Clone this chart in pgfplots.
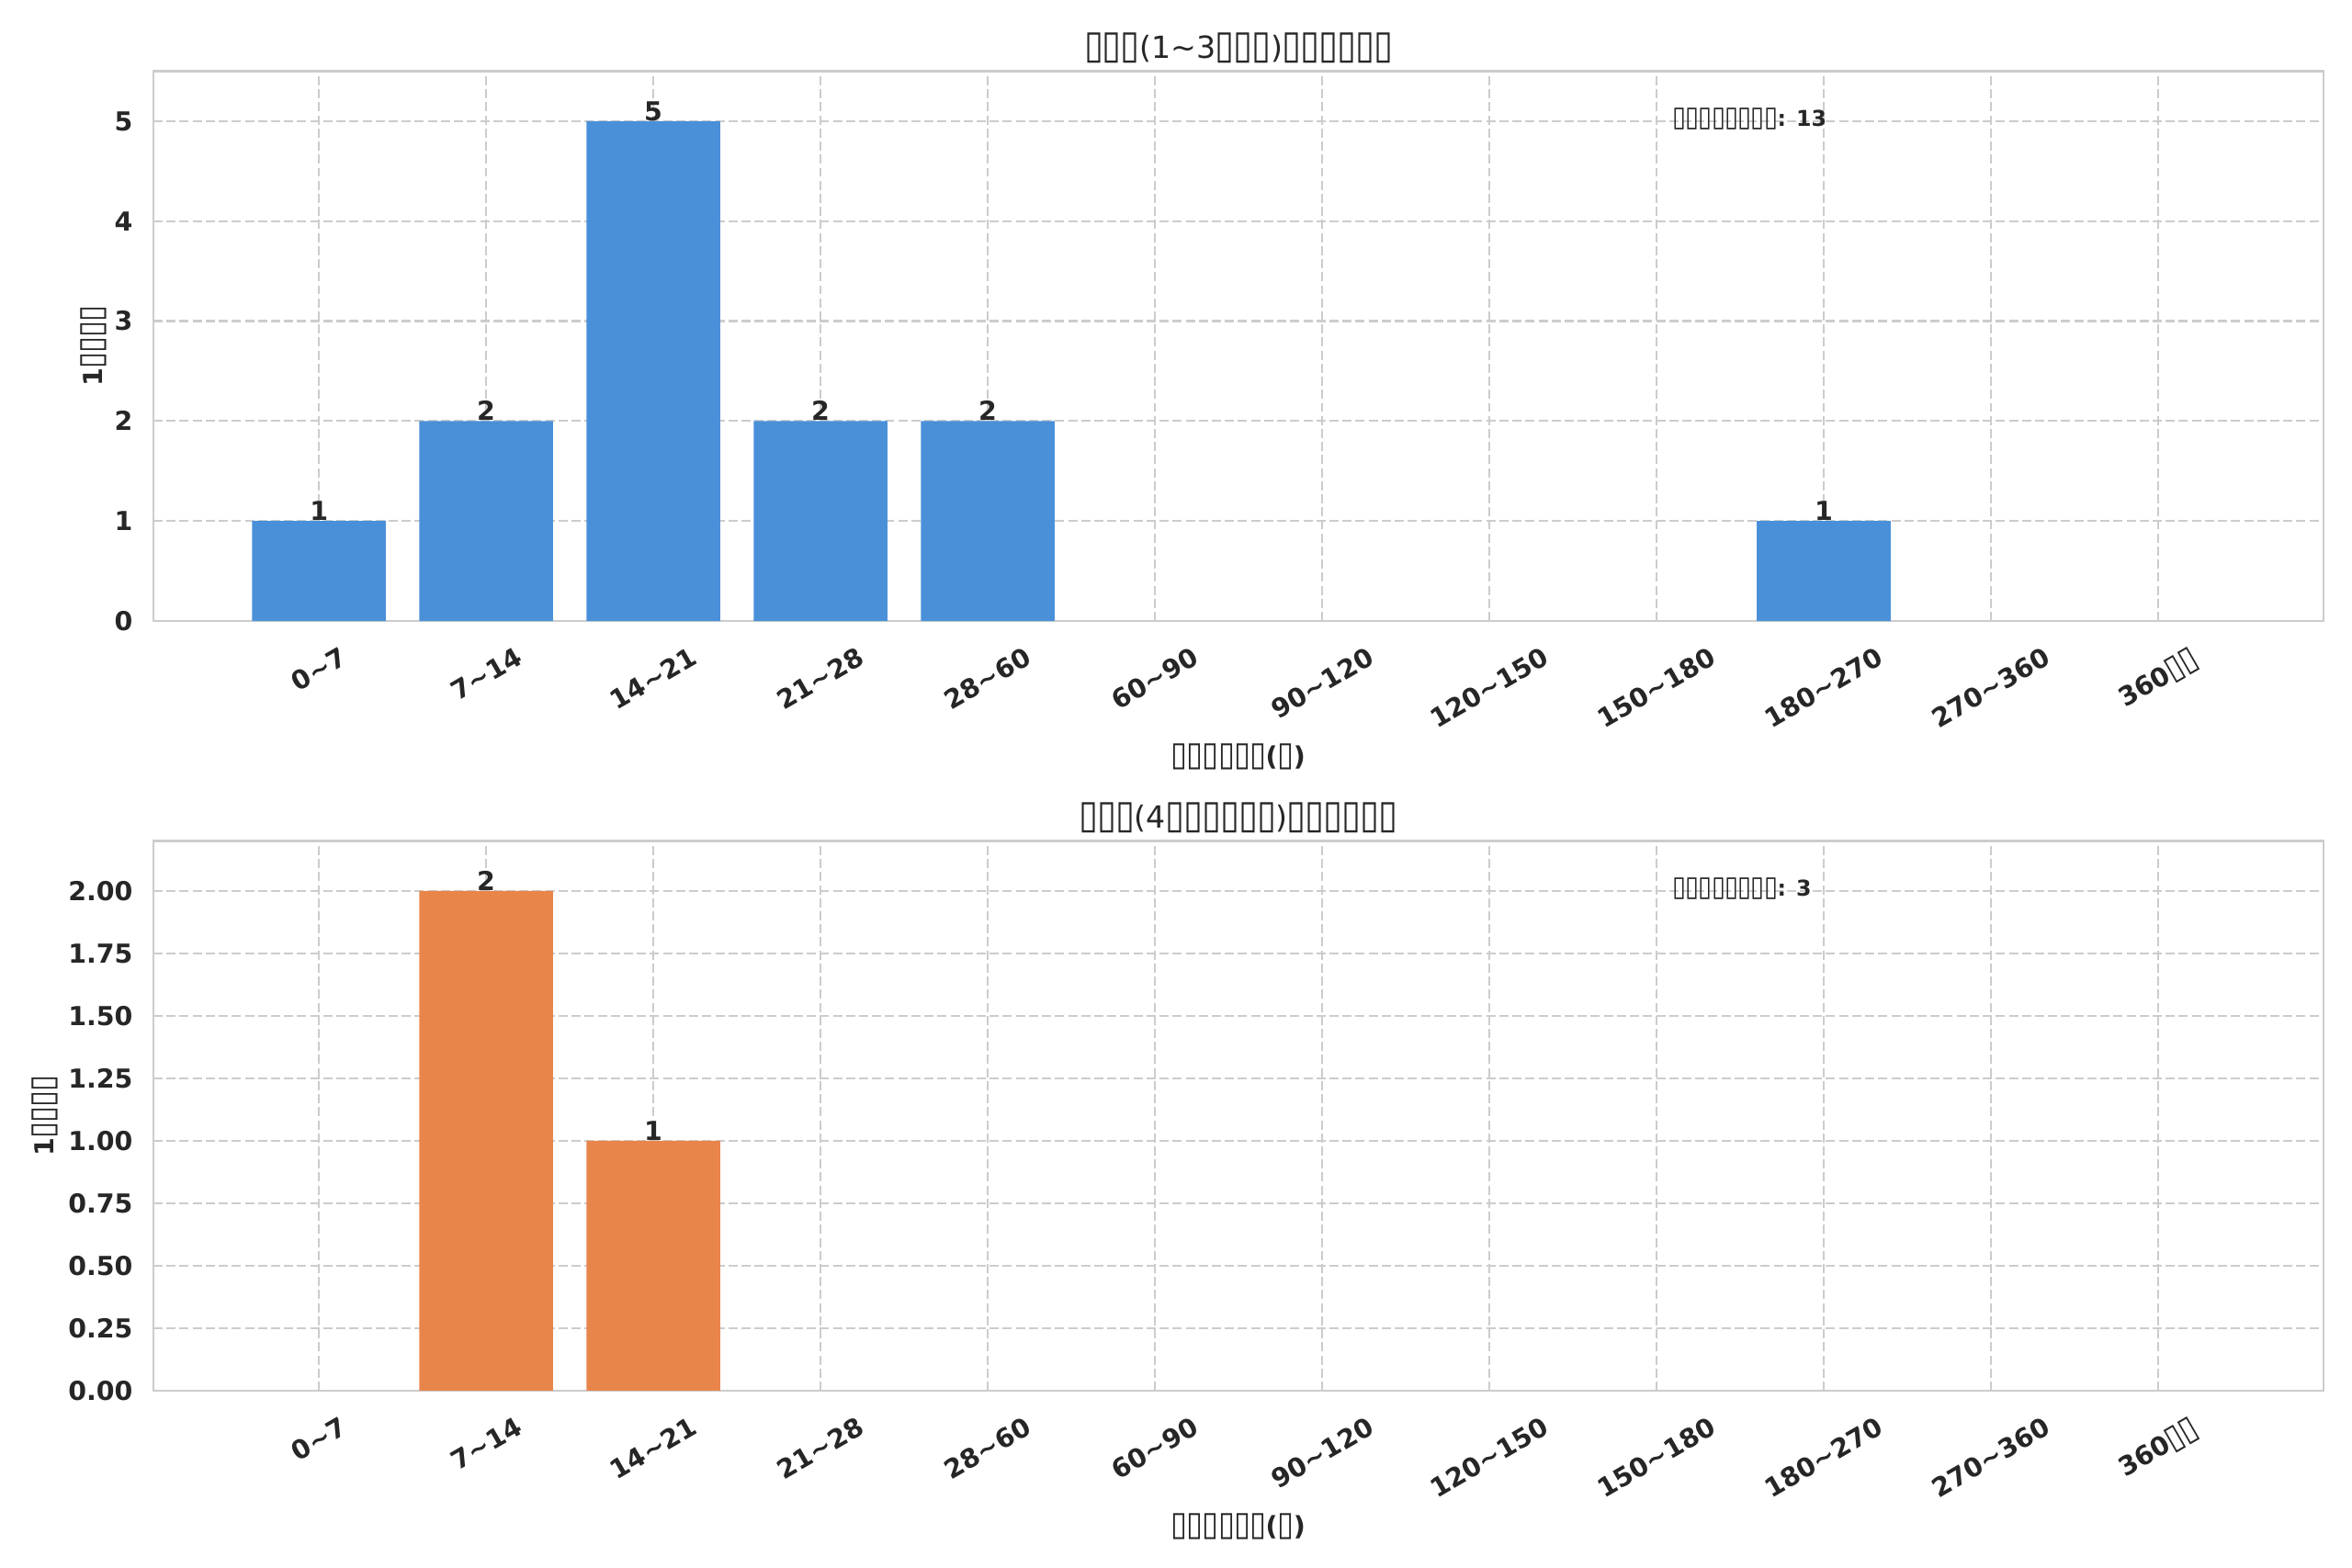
\documentclass[border=0pt]{standalone}
\usepackage{fontspec}
\setmainfont{DejaVu Sans}
\usepackage{graphicx}
\usepackage{pgfplots}
\pgfplotsset{compat=1.18}
\definecolor{txt}{HTML}{262626}
\definecolor{gridc}{HTML}{CCCCCC}
\definecolor{barblue}{HTML}{4A90D9}
\definecolor{barorange}{HTML}{E8854B}
\newcommand\tb{\makebox[0.6em]{\scalebox{1.15}[1.3]{▯}}}
\newcommand\rl[1]{\rotatebox{30}{#1}}
\newcommand\tl{\textasciitilde}
\newcommand\fs[1]{\fontsize{#1}{#1}\selectfont}
\pgfplotsset{
  /pgf/number format/assume math mode=true,
  every axis title shift=0pt,
  mystyle/.style={
    scale only axis, width=996.5pt, height=252.5pt,
    xmin=-0.99, xmax=11.99, ymin=0,
    xtick={0,...,11},
    xticklabels={\rl{0\tl7},\rl{7\tl14},\rl{14\tl21},\rl{21\tl28},\rl{28\tl60},\rl{60\tl90},\rl{90\tl120},\rl{120\tl150},\rl{150\tl180},\rl{180\tl270},\rl{270\tl360},\rl{360\tb\tb}},
    major tick length=0pt,
    grid=major,
    major grid style={gridc, line width=0.9pt, dash pattern=on 4.2pt off 1.8pt},
    axis line style={gridc, line width=1.1pt},
    tick label style={font=\fs{12}\bfseries, text=txt},
    xticklabel style={anchor=north, inner sep=0pt, yshift=-11.4pt},
    yticklabel style={anchor=east, inner sep=0pt, xshift=-9.3pt},
    title style={at={(axis description cs:0.5,1)}, anchor=base, yshift=6pt, inner sep=0pt, font=\fs{14}, text=txt},
    xlabel style={at={(axis description cs:0.5,0)}, anchor=center, yshift=-62.4pt, inner sep=0pt, font=\fs{12}\bfseries, text=txt},
    ybar, bar width=0.8,
    nodes near coords,
    every node near coord/.append style={anchor=south, inner sep=0pt, font=\fs{12}\bfseries, text=txt},
    clip=false,
  }
}
\begin{document}
\begin{tikzpicture}
\path[use as bounding box] (0,0) rectangle (1080pt,720pt);
\begin{axis}[mystyle, at={(70.45pt,434.8pt)}, anchor=south west,
  ymax=5.5, ytick={0,1,2,3,4,5},
  title={\tb\tb\tb(1\tl3\tb\tb\tb)\tb\tb\tb\tb\tb\tb},
  xlabel={\tb\tb\tb\tb\tb\tb(\tb)},
  ylabel={1\tb\tb\tb\tb},
  ylabel style={at={([xshift=-27.4pt]axis description cs:0,0.5)}, anchor=center, inner sep=0pt, font=\fs{12}\bfseries, text=txt},
]
\addplot[fill=barblue, draw=none] coordinates {(0,1) (1,2) (2,5) (3,2) (4,2) (9,1)};
\node[anchor=base west, inner sep=0pt, font=\fs{10}\bfseries, text=txt] at (rel axis cs:0.7,0.9) {\tb\tb\tb\tb\tb\tb\tb\tb: 13};
\end{axis}
\begin{axis}[mystyle, at={(70.45pt,81.3pt)}, anchor=south west,
  ymax=2.2, ytick={0,0.25,0.5,0.75,1,1.25,1.5,1.75,2},
  yticklabel style={/pgf/number format/.cd, fixed, fixed zerofill, precision=2},
  title={\tb\tb\tb(4\tb\tb\tb\tb\tb\tb)\tb\tb\tb\tb\tb\tb},
  xlabel={\tb\tb\tb\tb\tb\tb(\tb)},
  ylabel={1\tb\tb\tb\tb},
  ylabel style={at={([xshift=-49.8pt]axis description cs:0,0.5)}, anchor=center, inner sep=0pt, font=\fs{12}\bfseries, text=txt},
]
\addplot[fill=barorange, draw=none] coordinates {(1,2) (2,1)};
\node[anchor=base west, inner sep=0pt, font=\fs{10}\bfseries, text=txt] at (rel axis cs:0.7,0.9) {\tb\tb\tb\tb\tb\tb\tb\tb: 3};
\end{axis}
\end{tikzpicture}
\end{document}
